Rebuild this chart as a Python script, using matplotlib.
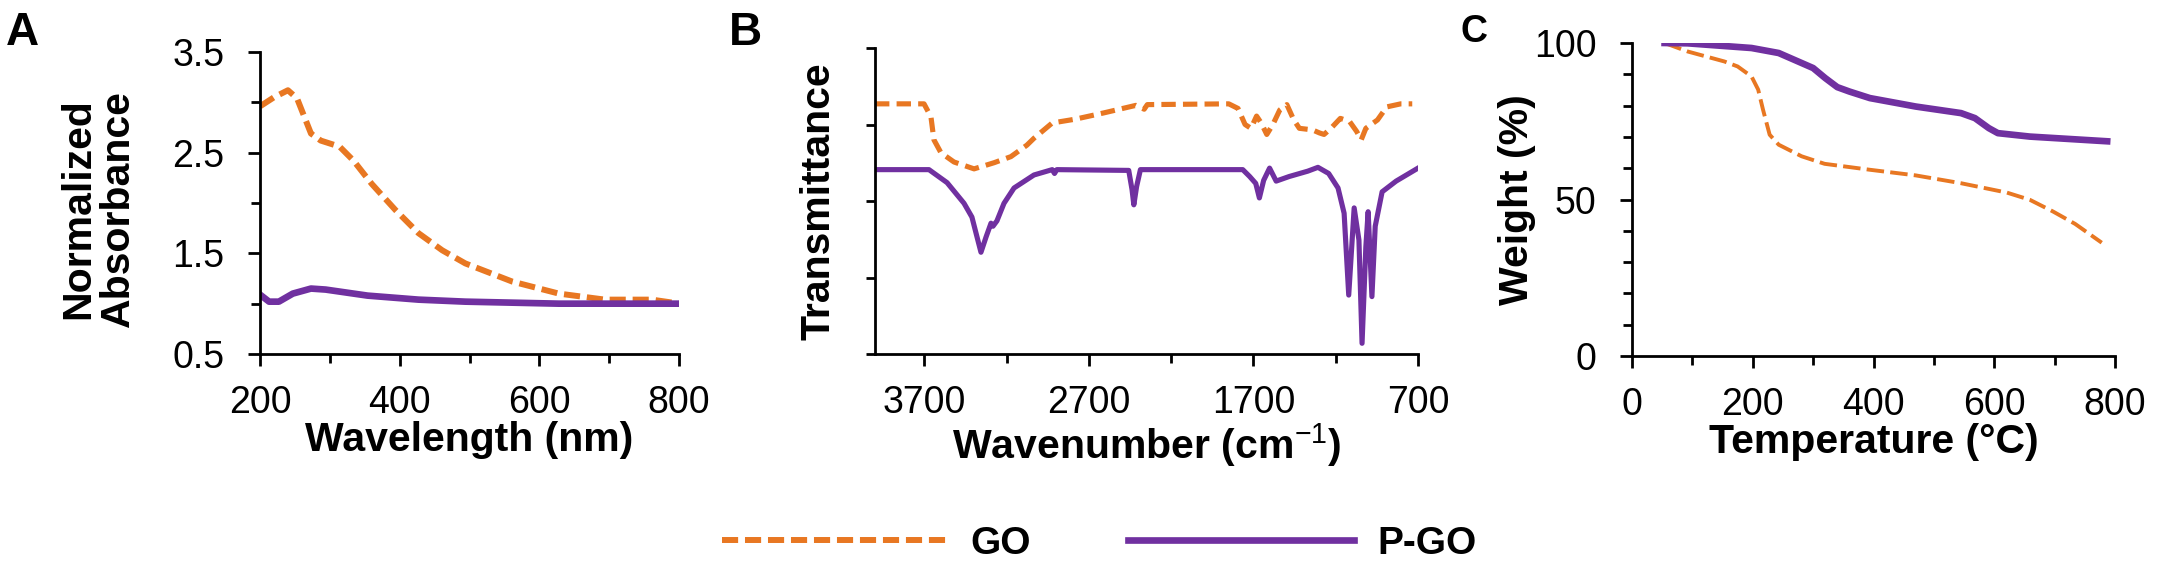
import numpy as np
import matplotlib
matplotlib.use('Agg')
import matplotlib.pyplot as plt

plt.rcParams['font.family'] = ['Liberation Sans', 'DejaVu Sans']
plt.rcParams['mathtext.fontset'] = 'custom'
plt.rcParams['mathtext.rm'] = 'Liberation Sans'

ORANGE = '#E87722'
PURPLE = '#7030A0'

# A: UV-vis
uv_wl_go = [200, 220, 240, 253, 273, 287, 314, 334, 360, 394, 427, 461, 494, 561, 628, 694, 761, 801]
uv_abs_go = [2.96, 3.05, 3.12, 3.04, 2.69, 2.62, 2.56, 2.42, 2.19, 1.93, 1.70, 1.53, 1.40, 1.22, 1.10, 1.04, 1.04, 1.00]
uv_wl_pgo = [200, 213, 227, 247, 273, 294, 354, 427, 494, 628, 801]
uv_abs_pgo = [1.09, 1.02, 1.02, 1.10, 1.15, 1.14, 1.08, 1.04, 1.02, 1.00, 1.00]

# B: FTIR
ir_wn_go = [4000, 3702, 3660, 3642, 3599, 3520, 3398, 3277, 3174, 3077, 3034, 2923, 2782, 2613, 2415, 2364,
            2345, 1850, 1794, 1751, 1715, 1681, 1653, 1619, 1582, 1540, 1497, 1455, 1421, 1342, 1299,
            1271, 1229, 1172, 1116, 1073, 1045, 1017, 946, 890, 805, 735]
ir_t_go = [3.27, 3.27, 3.10, 2.80, 2.63, 2.51, 2.42, 2.50, 2.58, 2.73, 2.82, 3.02, 3.07, 3.15, 3.25, 3.20,
           3.26, 3.27, 3.21, 3.00, 2.95, 3.11, 3.02, 2.87, 3.00, 3.19, 3.26, 3.06, 2.95, 2.93, 2.89,
           2.87, 2.95, 3.08, 3.04, 2.91, 2.80, 2.95, 3.06, 3.23, 3.27, 3.27]
ir_wn_pgo = [4000, 3672, 3562, 3459, 3411, 3380, 3356, 3325, 3295, 3283, 3259, 3216, 3155, 3034, 2923,
             2909, 2895, 2458, 2438, 2427, 2410, 2387, 1765, 1723, 1686, 1664, 1638, 1602, 1562, 1483,
             1370, 1308, 1243, 1186, 1149, 1121, 1088, 1059, 1040, 1017, 1003, 980, 960, 918, 833, 700]
ir_t_pgo = [2.41, 2.41, 2.24, 1.97, 1.79, 1.53, 1.33, 1.53, 1.71, 1.67, 1.74, 1.97, 2.17, 2.34, 2.41,
            2.36, 2.41, 2.40, 2.15, 1.95, 2.19, 2.41, 2.41, 2.32, 2.23, 2.04, 2.27, 2.43, 2.26, 2.32,
            2.39, 2.44, 2.36, 2.17, 1.84, 0.77, 1.91, 1.49, 0.14, 1.40, 1.86, 0.75, 1.67, 2.12, 2.26, 2.43]

# C: TGA
tga_t_go = [54, 92, 153, 175, 198, 209, 217, 228, 243, 281, 319, 394, 470, 545, 621, 659, 697, 734, 778]
tga_w_go = [100, 97.3, 94.1, 92.5, 89.3, 85.1, 78.7, 70.7, 67.5, 63.8, 61.4, 59.5, 57.7, 55.2, 52.2, 49.9, 46.2, 42.2, 36.2]
tga_t_pgo = [54, 92, 198, 243, 281, 300, 320, 340, 360, 394, 470, 545, 568, 591, 606, 659, 787]
tga_w_pgo = [100, 99.9, 98.4, 96.8, 93.6, 92.0, 88.8, 85.9, 84.5, 82.4, 79.7, 77.6, 76.0, 72.8, 71.2, 70.1, 68.6]

W, H = 2175, 569
fig = plt.figure(figsize=(W / 100, H / 100), dpi=100)


def box(l, r, t, b):
    return [l / W, 1 - b / H, (r - l) / W, (b - t) / H]


axA = fig.add_axes(box(260, 679, 52, 354))
axB = fig.add_axes(box(875, 1418, 48, 354))
axC = fig.add_axes(box(1632, 2115, 43, 356))

for ax in (axA, axB, axC):
    for s in ('top', 'right'):
        ax.spines[s].set_visible(False)
    for s in ('left', 'bottom'):
        ax.spines[s].set_linewidth(2.0)
    ax.tick_params(which='both', direction='out', width=2.0, labelsize=27)
    ax.tick_params(which='major', length=8.5)
    ax.tick_params(which='minor', length=6.5)
    ax.tick_params(axis='x', which='both', pad=14)
    ax.tick_params(axis='y', which='both', pad=17)

# A
axA.plot(uv_wl_go, uv_abs_go, color=ORANGE, lw=4.3, dashes=(2.7, 1.15), label='GO')
axA.plot(uv_wl_pgo, uv_abs_pgo, color=PURPLE, lw=4.8, label='P-GO')
axA.set_xlim(200, 800)
axA.set_ylim(0.5, 3.5)
axA.set_xticks([200, 400, 600, 800])
axA.set_xticks([300, 500, 700], minor=True)
axA.set_yticks([0.5, 1.5, 2.5, 3.5])
axA.set_yticks([1.0, 2.0, 3.0], minor=True)
axA.set_xlabel('Wavelength (nm)', fontsize=29.5, fontweight='bold', labelpad=0)
axA.set_ylabel('Normalized\nAbsorbance', fontsize=29.5, fontweight='bold', linespacing=1.05, va='center')
axA.yaxis.set_label_coords((98 - 260) / 419, 0.48)

# B
axB.plot(ir_wn_go, ir_t_go, color=ORANGE, lw=3.7, dashes=(2.8, 1.4))
axB.plot(ir_wn_pgo, ir_t_pgo, color=PURPLE, lw=3.7)
axB.set_xlim(4000, 700)
axB.set_ylim(0, 4)
axB.set_xticks([3700, 2700, 1700, 700])
axB.set_xticks([3200, 2200, 1200], minor=True)
axB.set_yticks([])
axB.set_yticks(np.arange(0, 4.01, 1), minor=True)
axB.set_xlabel(r'Wavenumber (cm$^{\mathrm{-1}}$)', fontsize=29.5, fontweight='bold', labelpad=0)
axB.set_ylabel('Transmittance', fontsize=29.5, fontweight='bold', va='center')
axB.yaxis.set_label_coords((818 - 875) / 543, 0.5)

# C
axC.plot(tga_t_go, tga_w_go, color=ORANGE, lw=2.8, dashes=(4.5, 1.6))
axC.plot(tga_t_pgo, tga_w_pgo, color=PURPLE, lw=4.8)
axC.set_xlim(0, 800)
axC.set_ylim(0, 100)
axC.set_xticks([0, 200, 400, 600, 800])
axC.set_xticks([100, 300, 500, 700], minor=True)
axC.set_yticks([0, 50, 100])
axC.set_yticks([10, 20, 30, 40, 60, 70, 80, 90], minor=True)
axC.set_xlabel('Temperature (°C)', fontsize=29.5, fontweight='bold', labelpad=0)
axC.set_ylabel('Weight (%)', fontsize=29.5, fontweight='bold', va='center')
axC.yaxis.set_label_coords((1517 - 1632) / 483, 0.5)

# panel letters
for x, y, s, size in [(6, 45, 'A', 33), (729, 45, 'B', 33), (1460, 42, 'C', 27)]:
    fig.text(x / W, 1 - y / H, s, fontsize=size, fontweight='bold', va='baseline', ha='left')

handles, labels = axA.get_legend_handles_labels()
fig.legend(handles, labels, loc='center', bbox_to_anchor=(1099 / W, 1 - 544 / H), ncol=2,
           frameon=False, handlelength=5.8, handletextpad=0.6, columnspacing=2.5,
           prop={'size': 28, 'weight': 'bold'})

fig.savefig('out.png', dpi=100)
